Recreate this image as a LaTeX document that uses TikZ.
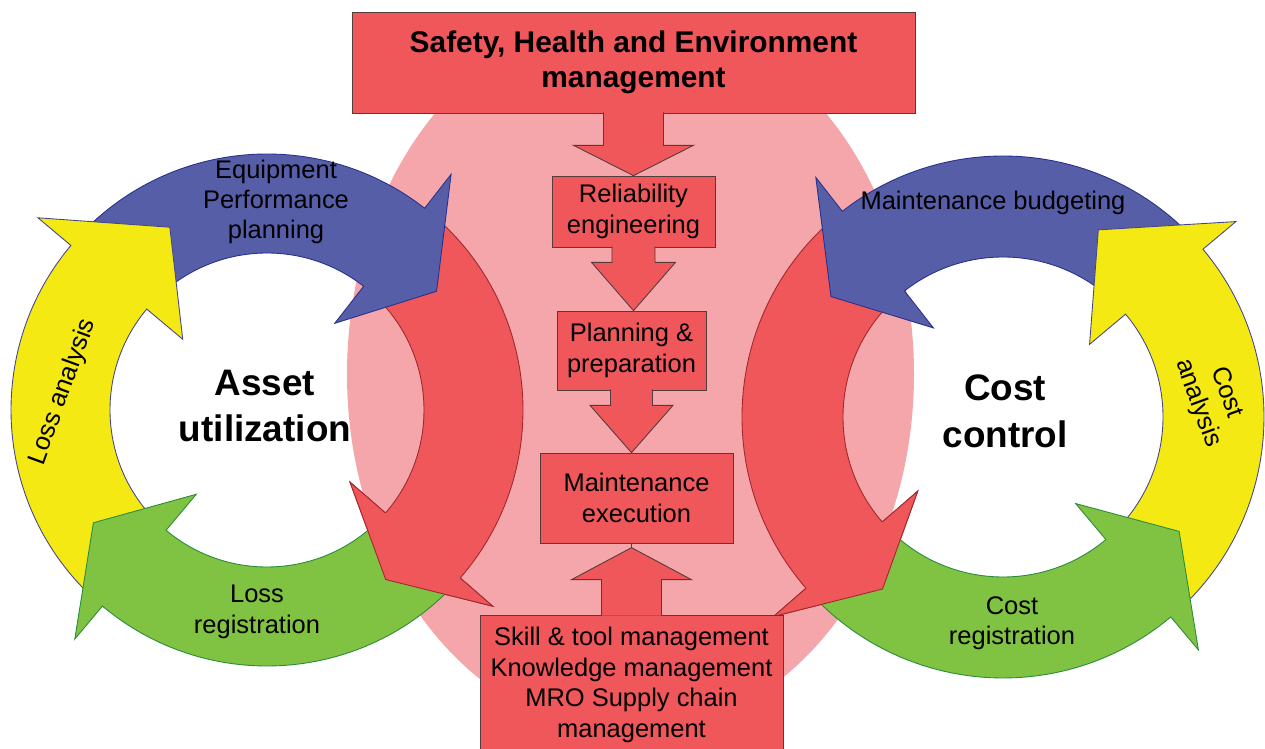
\documentclass[tikz,border=0pt]{standalone}
\usepackage{fontspec}
\setmainfont{Liberation Sans}
\usetikzlibrary{positioning,calc}

\definecolor{ellpink}{RGB}{245,166,170}
\definecolor{ringred}{RGB}{239,87,91}
\definecolor{rededge}{RGB}{160,40,45}
\definecolor{boxedge}{RGB}{85,60,60}
\definecolor{ringblue}{RGB}{87,94,168}
\definecolor{blueedge}{RGB}{40,48,140}
\definecolor{ringyellow}{RGB}{245,233,20}
\definecolor{yellowedge}{RGB}{70,70,140}
\definecolor{ringgreen}{RGB}{128,194,65}
\definecolor{greenedge}{RGB}{40,140,60}

\newcommand{\midfont}{\fontsize{14.5pt}{17.3pt}\selectfont}
\newcommand{\topfont}{\fontsize{17pt}{19.8pt}\selectfont\bfseries}
\newcommand{\hubfont}{\fontsize{21pt}{26.6pt}\selectfont\bfseries}

% curved arrow on a ring: centre, start angle, base angle, tip angle, style
\newcommand{\ringarrow}[5]{%
  \filldraw[#5] ($(#1)+(#2:\rout)$) arc[start angle=#2,end angle=#3,radius=\rout]
    -- ($(#1)+(#3:\rout+43)$) -- ($(#1)+(#4:\rtip)$) -- ($(#1)+(#3:\rin-47)$)
    -- ($(#1)+(#3:\rin)$) arc[start angle=#3,end angle=#2,radius=\rin] -- cycle;}
% head only, drawn again on top
\newcommand{\ringhead}[5]{%
  \fill[#5,draw=none] ($(#1)+(#3:\rout)$) -- ($(#1)+(#3:\rout+43)$) -- ($(#1)+(#4:\rtip)$)
    -- ($(#1)+(#3:\rin-47)$) -- ($(#1)+(#3:\rin)$) -- cycle;
  \draw[#5,fill=none] ($(#1)+(#3:\rout)$) -- ($(#1)+(#3:\rout+43)$) -- ($(#1)+(#4:\rtip)$)
    -- ($(#1)+(#3:\rin-47)$) -- ($(#1)+(#3:\rin)$);}
% block arrow between two boxes: from, to, half shaft, half head, shaft length
\newcommand{\blockdown}[5]{%
  \filldraw[boxarrow] ($(#1.south)+(-#3,-1)$) -- ($(#1.south)+(-#3,#5)$) -- ($(#1.south)+(-#4,#5)$)
    -- (#1.south |- #2.north) -- ($(#1.south)+(#4,#5)$) -- ($(#1.south)+(#3,#5)$) -- ($(#1.south)+(#3,-1)$);}

\begin{document}
\begin{tikzpicture}[
  x=0.02cm, y=-0.02cm,
  stepbox/.style={rectangle,draw=boxedge,fill=ringred,inner sep=0pt,align=center,font=\midfont},
  boxarrow/.style={fill=ringred,draw=boxedge,line width=0.5pt},
  redarr/.style={fill=ringred,draw=rededge,line width=0.5pt},
  bluearr/.style={fill=ringblue,draw=blueedge,line width=0.5pt},
  yellowarr/.style={fill=ringyellow,draw=yellowedge,line width=0.5pt},
  greenarr/.style={fill=ringgreen,draw=greenedge,line width=0.5pt},
  lbl/.style={align=center,font=\midfont,inner sep=0pt},
  hub/.style={align=center,font=\hubfont,inner sep=0pt},
]
\useasboundingbox (0,0) rectangle (1265,749);

% ==== background ellipse ====
\fill[ellpink] (630.5,374) ellipse [x radius=283.5, y radius=360];

% ==== ASSET UTILIZATION ring ====
\coordinate (asset) at (267,410);
\def\rin{157}\def\rout{256}\def\rtip{207}
\ringarrow{asset}{-48}{41}{55}{redarr}
\ringarrow{asset}{-135}{-52}{-35}{bluearr}
\ringarrow{asset}{134}{220}{242}{yellowarr}
\ringarrow{asset}{44}{130}{147}{greenarr}
\ringhead{asset}{-48}{41}{55}{redarr}

% ==== COST CONTROL ring ====
\coordinate (cost) at (1003,417);
\def\rin{160}\def\rout{261}\def\rtip{210}
\ringarrow{cost}{227}{139}{125}{redarr}
\ringarrow{cost}{-44}{-128}{-145}{bluearr}
\ringarrow{cost}{46}{-40}{-63}{yellowarr}
\ringarrow{cost}{135}{50}{33}{greenarr}
\ringhead{cost}{227}{139}{125}{redarr}

% ==== central column ====
\node[stepbox,font=\topfont,minimum width=11.26cm,minimum height=2.02cm] (she) at (633.5,62.5) {Safety, Health and Environment\\management};
\node[stepbox,minimum width=3.26cm,minimum height=1.42cm] (rel) at (633.5,211.5) {Reliability\\engineering};
\node[stepbox,minimum width=2.98cm,minimum height=1.58cm] (plan) at (631.5,350.5) {Planning \&\\preparation};
\node[stepbox,minimum width=3.86cm,minimum height=1.8cm] (exec) at (636.5,498) {Maintenance\\execution};
\node[stepbox,minimum width=6.06cm,minimum height=2.8cm] (supp) at (631.5,685) {Skill \& tool management\\Knowledge management\\MRO Supply chain\\management};

\blockdown{she}{rel}{30}{60}{32}
\blockdown{rel}{plan}{21.5}{42}{15}
\blockdown{plan}{exec}{21}{41.5}{15}
\filldraw[boxarrow] ($(supp.north)+(-30,1)$) -- ($(supp.north)+(-30,-35)$) -- ($(supp.north)+(-60,-35)$)
  -- ($(supp.north)+(0,-67)$) coordinate (uptip) -- ($(supp.north)+(60,-35)$) -- ($(supp.north)+(30,-35)$) -- ($(supp.north)+(30,1)$);
\draw[boxedge,line width=0.5pt] (uptip) -- (uptip |- exec.south);

% ==== labels ====
\node[lbl] (eqp) at (276,202) {Equipment\\Performance\\planning};
\node[lbl,rotate=70] (lana) at (63,392) {Loss analysis};
\node[lbl] (lreg) at (257,612) {Loss\\registration};
\node[hub] (assetlbl) at (265,406) {Asset\\utilization};

\node[lbl] (mbud) at (993,203) {Maintenance budgeting};
\node[lbl,rotate=-70] (cana) at (1212,398) {Cost\\analysis};
\node[lbl] (creg) at (1012,623) {Cost\\registration};
\node[hub] (costlbl) at (1005,411) {Cost\\control};

\end{tikzpicture}
\end{document}
